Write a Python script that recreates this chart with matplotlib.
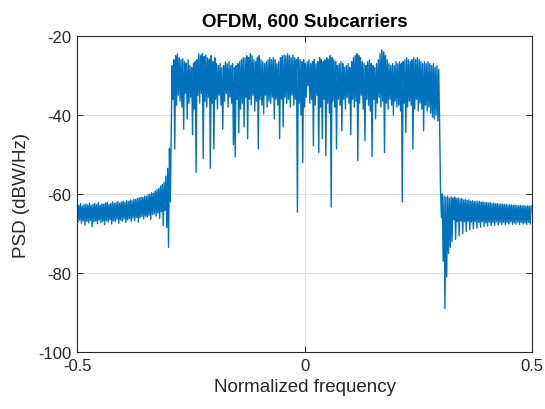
import numpy as np
import matplotlib
matplotlib.use("Agg")
import matplotlib.pyplot as plt

# Frequency bins (normalized frequency, 512 bins from -0.5)
n_bins = 512
freq = -0.5 + np.arange(n_bins) / n_bins

# PSD values (dBW/Hz)
psd_left = [
    -62.6, -67.1, -62.9, -66.6, -62.4, -67.4, -63.0, -66.8, -62.7, -67.9,
    -62.5, -66.9, -62.8, -67.3, -62.3, -66.7, -62.9, -68.3, -62.6, -67.0,
    -62.4, -66.8, -62.7, -67.5, -62.2, -66.6, -62.8, -67.2, -62.5, -66.9,
    -62.6, -67.8, -62.3, -66.7, -62.1, -67.1, -62.6, -66.5, -62.4, -67.6,
    -62.0, -66.8, -62.4, -67.0, -62.2, -66.4, -61.9, -67.4, -62.3, -66.6,
    -62.0, -66.9, -61.8, -66.3, -62.1, -67.2, -61.7, -66.6, -61.9, -66.2,
    -61.5, -66.9, -61.7, -66.1, -61.3, -66.7, -61.4, -65.9, -61.1, -67.1,
    -61.0, -66.0, -60.8, -65.7, -60.9, -66.3, -60.5, -65.6, -60.6, -65.9,
    -60.2, -65.4, -60.0, -66.4, -59.7, -65.2, -59.8, -65.0, -59.2, -65.6,
    -58.9, -64.8, -58.6, -66.2, -58.0, -64.5, -57.6, -68.0, -57.0, -64.2,
    -55.5, -68.5, -53.5, -73.5, -48.5, -62.0,
]
psd_band = [
    -45.0, -27.5, -36.0, -26.0, -48.6, -25.0, -37.5, -24.5, -35.0, -25.5,
    -36.5, -26.0, -38.0, -25.8, -43.6, -26.5, -34.5, -27.0, -41.0, -26.0,
    -37.0, -27.5, -35.5, -28.0, -45.0, -27.0, -38.5, -26.5, -54.5, -26.0,
    -35.0, -24.5, -37.0, -25.0, -34.5, -24.5, -51.0, -25.2, -36.5, -24.8,
    -38.0, -25.5, -35.5, -26.0, -53.5, -25.0, -37.0, -26.5, -48.6, -25.5,
    -36.0, -27.0, -38.5, -27.5, -35.0, -27.0, -37.5, -28.0, -43.6, -27.5,
    -36.5, -26.5, -34.5, -27.0, -38.0, -26.5, -35.5, -27.5, -37.0, -27.0,
    -47.5, -28.0, -50.6, -27.5, -36.0, -27.0, -44.5, -26.5, -38.5, -26.0,
    -37.0, -25.5, -43.0, -25.5, -35.5, -25.0, -46.0, -25.5, -36.0, -24.5,
    -37.5, -25.0, -35.0, -26.0, -39.0, -26.5, -36.5, -25.5, -48.6, -25.0,
    -36.0, -26.0, -37.5, -26.5, -39.7, -27.0, -35.0, -26.5, -38.0, -26.0,
    -36.5, -25.5, -37.0, -26.0, -35.5, -25.5, -41.0, -26.0, -36.0, -27.0,
    -37.5, -26.5, -46.0, -25.5, -36.0, -25.0, -43.0, -24.8, -35.5, -25.0,
    -37.0, -24.5, -36.0, -25.0, -38.0, -25.5, -35.0, -24.8, -37.5, -25.5,
    -36.0, -26.0, -64.6, -25.5, -37.0, -26.0, -40.0, -26.5, -52.0, -26.0,
    -38.0, -27.0, -35.5, -26.5, -32.5, -26.0, -37.0, -27.0, -36.0, -26.5,
    -47.8, -26.0, -37.5, -27.0, -35.0, -26.5, -49.5, -25.5, -38.0, -26.0,
    -46.0, -26.5, -36.0, -26.0, -50.3, -25.5, -37.0, -26.0, -39.5, -25.0,
    -63.3, -25.5, -36.5, -26.0, -38.0, -26.5, -48.6, -27.5, -36.0, -27.0,
    -37.5, -26.5, -44.0, -27.0, -36.0, -28.0, -38.5, -27.5, -35.5, -27.0,
    -37.0, -28.0, -45.0, -26.5, -36.0, -25.5, -38.0, -25.0, -36.5, -24.5,
    -51.5, -25.0, -37.0, -25.5, -35.0, -26.5, -38.5, -27.0, -46.5, -27.5,
    -36.0, -26.5, -37.5, -26.0, -39.0, -27.0, -50.5, -27.5, -36.0, -28.0,
    -41.0, -27.0, -37.0, -26.0, -35.5, -24.5, -38.0, -23.5, -36.5, -24.0,
    -49.5, -25.0, -37.0, -26.0, -38.5, -27.0, -36.0, -27.5, -37.5, -27.0,
    -40.0, -27.5, -36.5, -26.5, -38.0, -27.0, -37.5, -26.5, -39.0, -27.0,
    -62.0, -26.5, -37.0, -26.0, -44.4, -25.5, -38.0, -26.0, -36.5, -26.5,
    -37.5, -26.0, -48.6, -25.5, -38.5, -26.0, -36.0, -25.5, -39.0, -26.0,
    -37.0, -26.5, -38.5, -27.0, -44.0, -26.5, -37.5, -27.0, -39.0, -26.5,
    -38.0, -27.0, -39.5, -27.5, -40.5, -27.0, -41.0, -28.0, -40.0, -27.5,
    -41.5, -28.5, -42.0,
]
psd_right = [
    -58.5, -66.0, -60.0, -77.0, -60.5, -89.0, -60.8, -81.0, -60.5, -75.0,
    -61.0, -73.5, -60.7, -72.0, -61.0, -66.5, -60.8, -71.5, -61.2, -67.0,
    -61.0, -70.6, -61.3, -66.8, -61.1, -70.0, -61.5, -67.0, -61.4, -69.5,
    -61.6, -66.9, -61.5, -69.0, -61.8, -67.1, -61.7, -68.8, -61.9, -67.0,
    -61.8, -68.6, -62.0, -67.2, -61.9, -68.4, -62.1, -67.0, -62.0, -68.2,
    -62.2, -67.3, -62.1, -68.1, -62.3, -67.1, -62.2, -68.0, -62.4, -67.2,
    -62.3, -67.9, -62.5, -67.0, -62.4, -67.8, -62.6, -67.2, -62.5, -67.7,
    -62.6, -67.1, -62.7, -67.8, -62.6, -67.2, -62.8, -67.6, -62.7, -67.0,
    -62.8, -67.7, -62.9, -67.3, -62.8, -67.6, -62.9, -67.1, -63.0, -67.7,
    -62.9, -67.2, -63.0, -67.6, -62.9, -67.3, -63.1, -67.7, -63.0, -67.2,
    -63.1, -67.6, -63.0,
]
psd = np.array(psd_left + psd_band + psd_right)
freq = freq[:len(psd)]

x_ticks = [-0.5, 0, 0.5]
y_ticks = [-100, -80, -60, -40, -20]

plt.rcParams['font.family'] = ['Liberation Sans', 'DejaVu Sans']
plt.rcParams['axes.unicode_minus'] = False

fig = plt.figure(figsize=(5.45, 4.10), dpi=100)
ax = fig.add_axes([0.1413, 0.139, 0.8349, 0.7707])
ax.plot(freq, psd, color='#0072BD', linewidth=1.0)
ax.set_xlim(-0.5, 0.5)
ax.set_ylim(-100, -20)
ax.set_xticks(x_ticks)
ax.set_xticklabels(['-0.5', '0', '0.5'])
ax.set_yticks(y_ticks)
ax.grid(True, color='#dcdcdc', linewidth=0.7)
ax.set_axisbelow(True)
ax.tick_params(direction='in', top=True, right=True, length=4, width=0.7,
               labelsize=12, labelcolor='#262626', colors='#262626', pad=4)
for s in ax.spines.values():
    s.set_color('#262626')
    s.set_linewidth(0.8)
ax.set_xlabel('Normalized frequency', fontsize=13.5, color='#262626', labelpad=4)
ax.set_ylabel('PSD (dBW/Hz)', fontsize=13.5, color='#262626', labelpad=6)
ax.set_title('OFDM, 600 Subcarriers', fontsize=13.5, fontweight='bold', pad=7)
fig.savefig('out.png', dpi=100)
